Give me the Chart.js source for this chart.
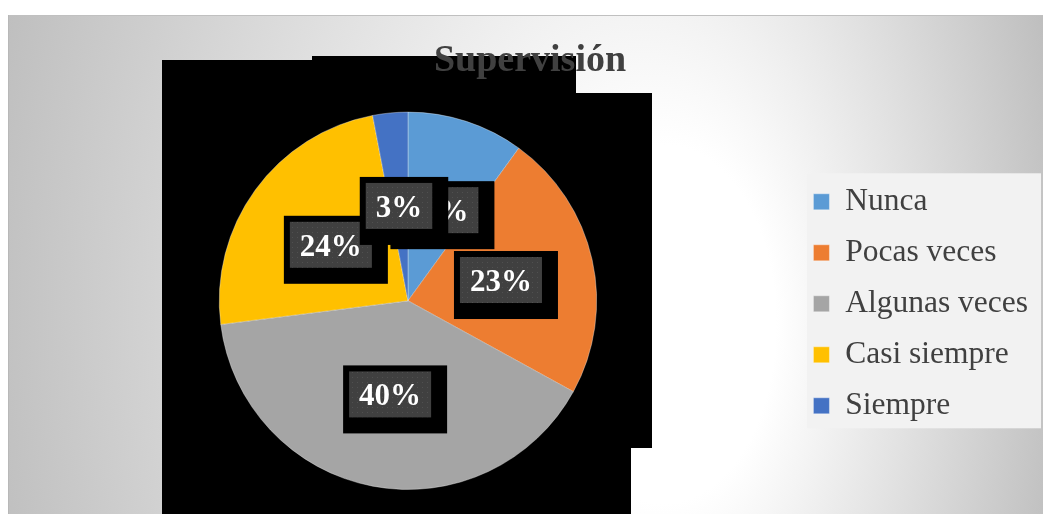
<!DOCTYPE html>
<html>
<head>
<meta charset="utf-8">
<script src="https://cdn.jsdelivr.net/npm/chart.js@4.4.1/dist/chart.umd.min.js"></script>
<style>
  html, body { margin: 0; padding: 0; background: #fff; }
  #wrap { width: 1043px; height: 514px; position: relative; }
</style>
</head>
<body>
<div id="wrap"><canvas id="chart"></canvas></div>
<script>
// data
const categories = ['Nunca', 'Pocas veces', 'Algunas veces', 'Casi siempre', 'Siempre'];
const shares = [10, 23, 40, 24, 3];
const sliceColors = ['#5B9BD5', '#ED7D31', '#A5A5A5', '#FFC000', '#4472C4'];
const chartTitle = 'Supervisión';

const serif = "'Liberation Serif', 'Times New Roman', serif";
const textGray = '#404040';

// black patches that sit behind the plot in the original picture
const blackPatch = [[162, 60], [312, 60], [312, 56], [576, 56], [576, 93], [652, 93],
                    [652, 448], [631, 448], [631, 514], [162, 514]];

let dotFill = null;
function getDotFill(ctx) {
    if (dotFill) return dotFill;
    const tile = document.createElement('canvas');
    tile.width = 5; tile.height = 5;
    const t = tile.getContext('2d');
    t.fillStyle = '#404040';
    t.fillRect(0, 0, 5, 5);
    t.fillStyle = '#505050';
    t.fillRect(2, 2, 1, 1);
    dotFill = ctx.createPattern(tile, 'repeat');
    return dotFill;
}

const backdrop = {
    id: 'backdrop',
    afterLayout(chart) {
        // stretch the legend box over the plot height so the items centre on the pie
        const lg = chart.legend;
        lg.top = chart.chartArea.top + 6;
        lg.bottom = chart.chartArea.bottom;
        lg.height = lg.bottom - lg.top;
    },
    beforeDraw(chart) {
        const { ctx, width, height, chartArea } = chart;
        ctx.save();
        ctx.fillStyle = '#fff';
        ctx.fillRect(0, 0, width, height);

        // card with off-centre radial shading
        ctx.save();
        ctx.beginPath();
        ctx.rect(8, 15, width - 8, height - 15);
        ctx.clip();
        ctx.scale(1, 1.6);
        const g = ctx.createRadialGradient(700, 330 / 1.6, 0, 520, 300 / 1.6, 560);
        g.addColorStop(0, '#ffffff');
        g.addColorStop(0.2, '#ffffff');
        g.addColorStop(1, '#bdbdbd');
        ctx.fillStyle = g;
        ctx.fillRect(0, 0, width, height);
        ctx.restore();

        ctx.fillStyle = '#c0c0c0';
        ctx.fillRect(8, 15, width - 8, 1);
        ctx.fillStyle = '#b8b8b8';
        ctx.fillRect(8, 15, 1, height - 15);

        ctx.fillStyle = '#000';
        ctx.beginPath();
        blackPatch.forEach(([x, y], i) => i ? ctx.lineTo(x, y) : ctx.moveTo(x, y));
        ctx.closePath();
        ctx.fill();

        // legend panel
        const lg = chart.legend;
        const midY = (chartArea.top + chartArea.bottom) / 2;
        ctx.fillStyle = '#f2f2f2';
        ctx.fillRect(lg.left + 13, midY - 127.5, lg.right + 3 - (lg.left + 13), 255);
        ctx.restore();
    }
};

const sliceLabels = {
    id: 'sliceLabels',
    afterDatasetsDraw(chart) {
        const ctx = chart.ctx;
        const meta = chart.getDatasetMeta(0);
        const values = chart.data.datasets[0].data;
        const total = values.reduce((a, b) => a + b, 0);
        ctx.save();
        ctx.font = 'bold 31px ' + serif;
        ctx.textAlign = 'center';
        ctx.textBaseline = 'middle';
        meta.data.forEach((arc, i) => {
            const { x, y, startAngle, endAngle, outerRadius } =
                arc.getProps(['x', 'y', 'startAngle', 'endAngle', 'outerRadius'], true);
            const mid = (startAngle + endAngle) / 2;
            const cx = x + Math.cos(mid) * outerRadius * 0.505;
            const cy = y + Math.sin(mid) * outerRadius * 0.505;
            const text = Math.round(values[i] / total * 100) + '%';
            const w = ctx.measureText(text).width + 20;
            const h = 46;
            const bx = cx - w / 2, by = cy - h / 2;
            ctx.fillStyle = '#000';
            ctx.fillRect(bx - 6, by - 6, w + 22, h + 22);
            ctx.fillStyle = getDotFill(ctx);
            ctx.fillRect(bx, by, w, h);
            ctx.fillStyle = '#fff';
            ctx.fillText(text, cx, cy + 3);
        });
        ctx.restore();
    }
};

new Chart(document.getElementById('chart'), {
    type: 'pie',
    data: {
        labels: categories,
        datasets: [{
            data: shares,
            backgroundColor: sliceColors,
            borderColor: 'rgba(255,255,255,0.35)',
            borderWidth: 1
        }]
    },
    options: {
        responsive: true,
        maintainAspectRatio: false,
        animation: false,
        events: [],
        layout: { padding: { top: 0, left: 22, right: 5, bottom: 24 } },
        plugins: {
            title: {
                display: true,
                text: chartTitle,
                color: textGray,
                font: { family: serif, size: 38, weight: 'bold', lineHeight: 1.2 },
                padding: { top: 38, bottom: 28 }
            },
            legend: {
                position: 'right',
                align: 'center',
                labels: {
                    color: textGray,
                    font: { family: serif, size: 31.5 },
                    boxWidth: 16,
                    boxHeight: 16,
                    padding: 19.5
                }
            },
            tooltip: { enabled: false }
        }
    },
    plugins: [backdrop, sliceLabels]
});
</script>
</body>
</html>
